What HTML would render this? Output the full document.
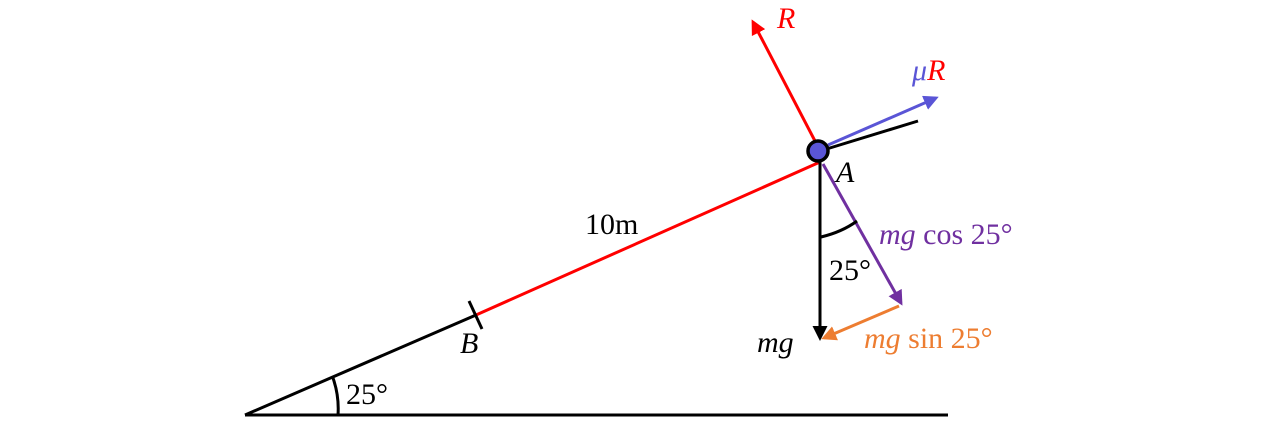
<!DOCTYPE html>
<html><head><style>body{margin:0;background:#fff}svg{display:block}text{font-family:"Liberation Serif","DejaVu Serif",serif;font-size:30px}</style></head><body>
<svg width="1280" height="432" viewBox="0 0 1280 432">
<defs>
<marker id="k" markerWidth="5" markerHeight="5" refX="4" refY="2.5" orient="auto" markerUnits="strokeWidth"><path d="M0,0L5,2.5L0,5z" fill="#000"/></marker>
<marker id="r" markerWidth="5" markerHeight="5" refX="4" refY="2.5" orient="auto" markerUnits="strokeWidth"><path d="M0,0L5,2.5L0,5z" fill="#f00"/></marker>
<marker id="b" markerWidth="5" markerHeight="5" refX="4" refY="2.5" orient="auto" markerUnits="strokeWidth"><path d="M0,0L5,2.5L0,5z" fill="#5a55d6"/></marker>
<marker id="p" markerWidth="5" markerHeight="5" refX="4" refY="2.5" orient="auto" markerUnits="strokeWidth"><path d="M0,0L5,2.5L0,5z" fill="#7030a0"/></marker>
<marker id="o" markerWidth="5" markerHeight="5" refX="4" refY="2.5" orient="auto" markerUnits="strokeWidth"><path d="M0,0L5,2.5L0,5z" fill="#ed7d31"/></marker>
</defs>
<g stroke-width="3" fill="none">
<line x1="245" y1="415" x2="948" y2="415" stroke="#000"/>
<line x1="245" y1="415" x2="476" y2="315" stroke="#000"/>
<line x1="476" y1="315" x2="820" y2="162" stroke="#f00"/>
<line x1="820" y1="151" x2="918" y2="121" stroke="#000"/>
<line x1="469" y1="301" x2="482" y2="329" stroke="#000"/>
<path d="M338,415 A93,93 0 0 0 333,378" stroke="#000"/>
<line x1="815" y1="141" x2="753" y2="22" stroke="#f00" marker-end="url(#r)"/>
<line x1="828" y1="145" x2="936" y2="98" stroke="#5a55d6" marker-end="url(#b)"/>
<line x1="820" y1="162" x2="820" y2="338" stroke="#000" marker-end="url(#k)"/>
<line x1="823" y1="164" x2="901" y2="303" stroke="#7030a0" marker-end="url(#p)"/>
<line x1="899" y1="306" x2="824" y2="338" stroke="#ed7d31" marker-end="url(#o)"/>
<path d="M821,237 Q842,232 857,221" stroke="#000"/>
</g>
<circle cx="818" cy="151" r="10" fill="#5a55d6" stroke="#000" stroke-width="3.5"/>
<text x="777" y="28" fill="#f00" font-style="italic">R</text>
<text x="912" y="80" fill="#5a55d6" font-style="italic">μ<tspan fill="#f00">R</tspan></text>
<text x="836" y="182" font-style="italic" font-size="26">A</text>
<text x="460" y="353" font-style="italic" font-size="26">B</text>
<text x="585" y="234" font-family="Liberation Sans,sans-serif" font-size="23">10m</text>
<text x="346" y="404" font-family="Liberation Sans,sans-serif" font-size="23">25°</text>
<text x="829" y="280" font-family="Liberation Sans,sans-serif" font-size="23">25°</text>
<text x="879" y="244" fill="#7030a0"><tspan font-style="italic">mg</tspan> cos 25°</text>
<text x="864" y="348" fill="#ed7d31"><tspan font-style="italic">mg</tspan> sin 25°</text>
<text x="757" y="352" font-style="italic">mg</text>
</svg>
</body></html>
